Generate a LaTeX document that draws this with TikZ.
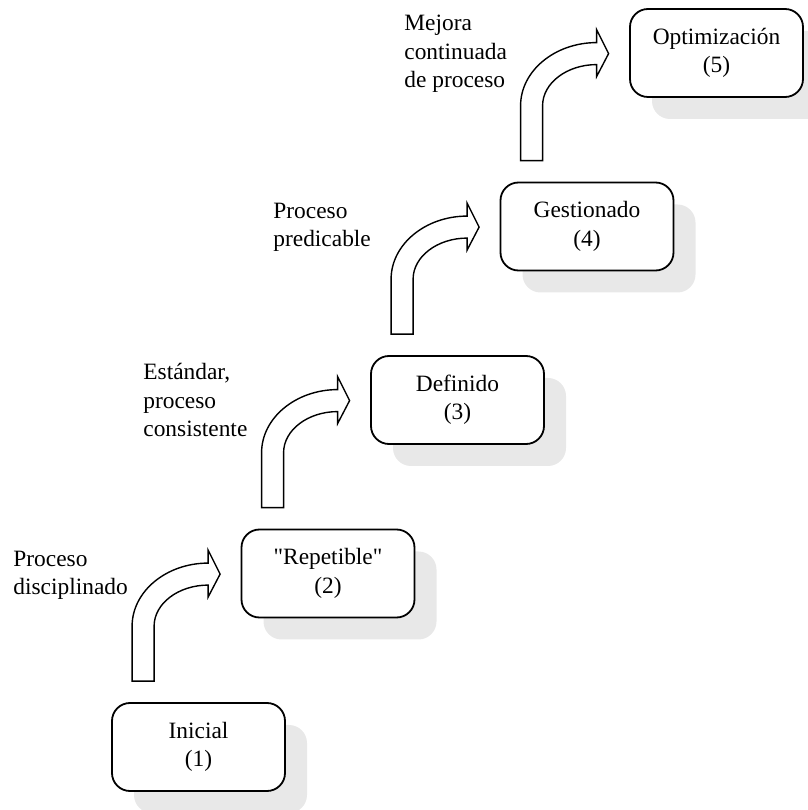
\documentclass[tikz,border=0pt]{standalone}
\usepackage{fontspec}
\setmainfont{Liberation Serif}[Ligatures=TeXOff]
\usetikzlibrary{positioning,shadows}

\begin{document}
\begin{tikzpicture}[x=0.5pt,y=0.5pt,node distance=86.75pt and 64.75pt,on grid,
  font=\fontsize{11.7}{14.25}\selectfont,
  level node/.style={rectangle,rounded corners=9pt,draw,line width=0.9pt,minimum width=86.5pt,minimum height=44pt,inner sep=0pt,align=center,fill=white,
    drop shadow={shadow xshift=11pt,shadow yshift=-11pt,fill=black!9,opacity=1}},
  note/.style={anchor=base west,align=left,inner sep=0pt},
  climb/.pic={\draw[line width=0.7pt,line join=miter] (0,0) -- (0,55) .. controls (0,89.6) and (34.2,118) .. (76,118) -- (76,131) -- (88,107) -- (76,84) -- (76,96) .. controls (46.3,96) and (22,77.5) .. (22,55) -- (22,0) -- cycle;}]
  \useasboundingbox (0,0) rectangle (808,810);

  \node[level node] (n1) at (198.5,63) {Inicial\\(1)};
  \node[level node] (n2) [above right=of n1] {"Repetible"\\(2)};
  \node[level node] (n3) [above right=of n2] {Definido\\(3)};
  \node[level node] (n4) [above right=of n3] {Gestionado\\(4)};
  \node[level node] (n5) [above right=of n4] {Optimización\\(5)};

  \pic at ([shift={(21,21)}]n1.north west) {climb};
  \pic at ([shift={(21,21)}]n2.north west) {climb};
  \pic at ([shift={(21,21)}]n3.north west) {climb};
  \pic at ([shift={(21,21)}]n4.north west) {climb};

  % last baselines of the notes
  \node[note] (t1) at (13,215) {Proceso\\disciplinado};
  \node[note] (t2) at (143,373) {Estándar,\\proceso\\consistente};
  \node[note] (t3) at (273,563) {Proceso\\predicable};
  \node[note] (t4) at (404,722) {Mejora\\continuada\\de proceso};
\end{tikzpicture}
\end{document}
